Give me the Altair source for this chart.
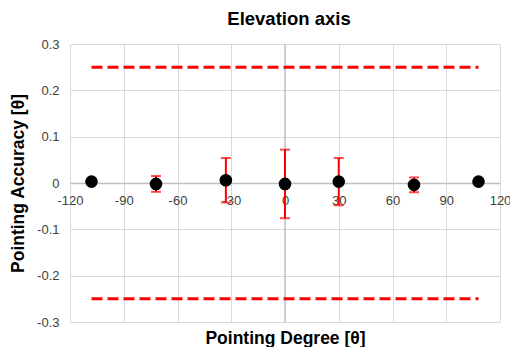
import altair as alt
import pandas as pd

# Data
x_deg = [-108, -72, -33, 0, 30, 72, 108]
y_acc = [0.003, -0.002, 0.006, -0.002, 0.003, -0.004, 0.003]
y_err = [0.0, 0.017, 0.048, 0.074, 0.051, 0.016, 0.0]
limit_x = [-108, 108]
limit_levels = [0.25, -0.25]
x_ticks = [-120, -90, -60, -30, 0, 30, 60, 90, 120]
y_ticks = [-0.3, -0.2, -0.1, 0, 0.1, 0.2, 0.3]

pts = pd.DataFrame({"x": x_deg, "y": y_acc, "err": y_err})
pts["lo"] = pts["y"] - pts["err"]
pts["hi"] = pts["y"] + pts["err"]
err = pts[pts["err"] > 0].copy()
caps = pd.concat([
    pd.DataFrame({"x": err["x"], "y": err["lo"]}),
    pd.DataFrame({"x": err["x"], "y": err["hi"]}),
])
limits = pd.DataFrame(
    [{"x": lx, "y": lv, "g": str(lv)} for lv in limit_levels for lx in limit_x]
)
zero = pd.DataFrame({"x": [0], "y": [0]})

FONT = "Liberation Sans"
W, H = 430, 278
xscale = alt.Scale(domain=[-120, 120], nice=False, zero=False)
yscale = alt.Scale(domain=[-0.3, 0.3], nice=False, zero=False)

x_axis = alt.Axis(
    values=x_ticks, grid=True, gridColor="#d9d9d9", ticks=False,
    domainColor="#bfbfbf", domainWidth=1.3, offset=-H / 2,
    labelFlush=False, labelOverlap=False, labelPadding=11,
    labelFontSize=13, labelColor="#404040", labelFont=FONT,
    labelExpr="replace(format(datum.value, 'd'), '\u2212', '-')",
    title="Pointing Degree [θ]", titleFontSize=17.5, titleFont=FONT,
    titleFontWeight="bold", titleColor="#000000",
    titleY=160, titleBaseline="alphabetic",
)
y_axis = alt.Axis(
    values=y_ticks, grid=True, gridColor="#d9d9d9", ticks=False,
    domain=False, labelPadding=11, labelFontSize=13, labelColor="#404040",
    labelFont=FONT,
    labelExpr="datum.value == 0 ? '0' : replace(format(datum.value, '.1f'), '\u2212', '-')",
    title="Pointing Accuracy [θ]", titleFontSize=17.5, titleFont=FONT,
    titleFontWeight="bold", titleColor="#000000", titlePadding=9,
)


def X(f):
    return alt.X(f, scale=xscale, axis=x_axis)


def Y(f):
    return alt.Y(f, scale=yscale, axis=y_axis)


zero_rule = alt.Chart(zero).mark_rule(color="#bfbfbf", strokeWidth=1.3).encode(
    x=X("x:Q")
)

limit_lines = alt.Chart(limits).mark_line(
    color="#ff0000", strokeWidth=3, strokeDash=[11, 5]
).encode(x=X("x:Q"), y=Y("y:Q"), detail="g:N")

bars = alt.Chart(err).mark_rule(color="#ff0000", strokeWidth=2).encode(
    x=X("x:Q"), y=Y("lo:Q"), y2="hi:Q"
)

cap_ticks = alt.Chart(caps).mark_tick(
    color="#ff0000", thickness=2, size=10, orient="horizontal"
).encode(x=X("x:Q"), y=Y("y:Q"))

points = alt.Chart(pts).mark_point(
    filled=True, color="#000000", size=160, opacity=1, shape="circle"
).encode(x=X("x:Q"), y=Y("y:Q"))

chart = alt.layer(zero_rule, limit_lines, bars, cap_ticks, points).properties(
    width=W,
    height=H,
    autosize=alt.AutoSizeParams(type="none"),
    padding={"left": 62, "top": 36, "right": 10, "bottom": 25},
    title=alt.TitleParams(
        "Elevation axis", fontSize=18.5, font=FONT, fontWeight="bold",
        color="#000000", anchor="middle", offset=10, dx=4,
    ),
    background="#ffffff",
).configure_view(strokeWidth=0)

chart.save("out.html", embed_options={"renderer": "svg", "actions": False})
